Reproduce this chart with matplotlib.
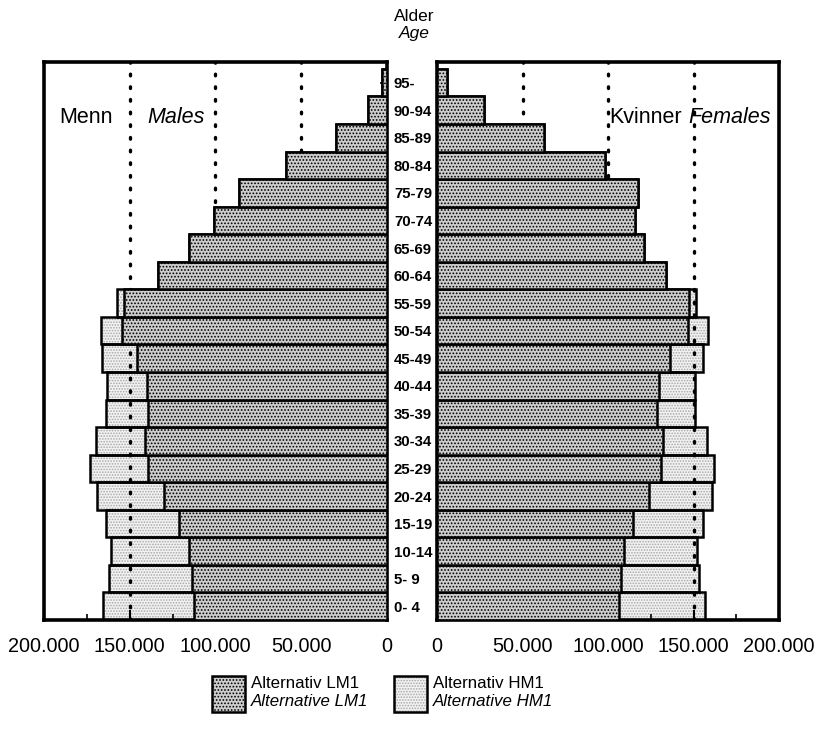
import matplotlib
matplotlib.use("Agg")
import matplotlib.pyplot as plt
from matplotlib.patches import Rectangle
from matplotlib.ticker import FuncFormatter, MultipleLocator

plt.rcParams["font.family"] = ["Liberation Sans", "DejaVu Sans"]
plt.rcParams["hatch.linewidth"] = 0.8
plt.rcParams["hatch.color"] = "#5a5a5a"

ages = ["0- 4", "5- 9", "10-14", "15-19", "20-24", "25-29", "30-34", "35-39",
        "40-44", "45-49", "50-54", "55-59", "60-64", "65-69", "70-74", "75-79",
        "80-84", "85-89", "90-94", "95-"]

# thousands of persons
males_lm1 = [112.3, 113.7, 115.7, 121.0, 130.3, 139.3, 141.2, 139.3, 139.7, 145.9,
             154.7, 153.3, 133.8, 115.3, 100.6, 86.4, 59.1, 29.8, 10.9, 3.2]
males_hm1 = [165.6, 162.0, 160.7, 164.0, 169.3, 173.4, 169.9, 164.0, 163.0, 166.4,
             167.0, 157.6, 133.8, 115.3, 100.6, 86.4, 59.1, 29.8, 10.9, 3.2]
females_lm1 = [106.5, 107.5, 109.5, 114.9, 123.7, 130.9, 131.9, 128.6, 130.1, 136.4,
               146.7, 147.6, 134.0, 121.2, 115.9, 117.8, 98.0, 62.3, 27.3, 6.0]
females_hm1 = [157.0, 153.3, 152.0, 155.8, 160.7, 161.7, 157.8, 151.0, 151.0, 155.8,
               158.2, 151.5, 134.0, 121.2, 115.9, 117.8, 98.0, 62.3, 27.3, 6.0]

LM1_FACE = "#cdcdcd"
HM1_FACE = "#f2f2f2"
LM1_HATCH = "....."
HM1_HATCH = "......"
HM1_DOTS = "#a8a8a8"


def fmt_thousands(v, pos):
    return f"{int(round(v)):,}".replace(",", ".")


def draw_side(ax, lm1, hm1):
    y = list(range(len(ages)))
    hm1_w = [v * 1000 for v in hm1]
    # light stipple for HM1, then its black outline
    ax.barh(y, hm1_w, height=1.0, color=HM1_FACE, edgecolor=HM1_DOTS,
            linewidth=0, hatch=HM1_HATCH, zorder=1)
    ax.barh(y, hm1_w, height=1.0, fill=False, edgecolor="black",
            linewidth=1.8, zorder=1.5)
    for x in (50000, 100000, 150000):
        ax.axvline(x, color="black", linewidth=2.4, linestyle=(0, (0.5, 3.3)),
                   dash_capstyle="round", zorder=2)
    ax.barh(y, [v * 1000 for v in lm1], height=1.0, color=LM1_FACE,
            edgecolor="black", linewidth=1.8, hatch=LM1_HATCH, zorder=3)
    ax.set_ylim(-0.5, 19.75)
    ax.xaxis.set_major_locator(MultipleLocator(50000))
    ax.xaxis.set_minor_locator(MultipleLocator(25000))
    ax.xaxis.set_major_formatter(FuncFormatter(fmt_thousands))
    ax.tick_params(axis="x", which="major", direction="in", length=7, width=1.5,
                   labelsize=14.3, pad=12)
    ax.tick_params(axis="x", which="minor", direction="in", length=4, width=1.2)
    for s in ax.spines.values():
        s.set_linewidth(2.6)


fig = plt.figure(figsize=(8.16, 7.43), dpi=100)
ax_m = fig.add_axes([44 / 816, 1 - 620 / 743, 343 / 816, 558 / 743])
ax_f = fig.add_axes([437 / 816, 1 - 620 / 743, 342 / 816, 558 / 743])

draw_side(ax_m, males_lm1, males_hm1)
draw_side(ax_f, females_lm1, females_hm1)

ax_m.set_xlim(200000, 0)
ax_f.set_xlim(0, 200000)

ax_m.yaxis.tick_right()
ax_m.set_yticks(range(len(ages)))
ax_m.set_yticklabels(ages, fontsize=10.8, fontweight="bold")
ax_m.tick_params(axis="y", direction="in", length=5, width=1.2, pad=5)
ax_f.set_yticks(range(len(ages)))
ax_f.set_yticklabels([])
ax_f.tick_params(axis="y", direction="in", length=5, width=1.2)

ax_m.text(0.045, 0.9, "Menn", transform=ax_m.transAxes, fontsize=15.5,
          ha="left", va="center")
ax_m.text(0.30, 0.9, "Males", transform=ax_m.transAxes, fontsize=15.5,
          style="italic", ha="left", va="center")
ax_f.text(0.505, 0.9, "Kvinner", transform=ax_f.transAxes, fontsize=15.5,
          ha="left", va="center")
ax_f.text(0.735, 0.9, "Females", transform=ax_f.transAxes, fontsize=15.5,
          style="italic", ha="left", va="center")

fig.text(0.508, 0.978, "Alder", fontsize=12.5, ha="center", va="center")
fig.text(0.508, 0.955, "Age", fontsize=12.5, style="italic", ha="center", va="center")

# legend
for x0, face, hatch, dots, l1, l2 in [
        (212, LM1_FACE, LM1_HATCH, None, "Alternativ LM1", "Alternative LM1"),
        (394, HM1_FACE, HM1_HATCH, HM1_DOTS, "Alternativ HM1", "Alternative HM1")]:
    box = ((x0 / 816, 1 - 712 / 743), 33 / 816, 36 / 743)
    if dots:
        fig.patches.append(Rectangle(*box, transform=fig.transFigure, facecolor=face,
                                     edgecolor=dots, linewidth=0, hatch=hatch))
        fig.patches.append(Rectangle(*box, transform=fig.transFigure, fill=False,
                                     edgecolor="black", linewidth=1.8))
    else:
        fig.patches.append(Rectangle(*box, transform=fig.transFigure, facecolor=face,
                                     edgecolor="black", linewidth=1.8, hatch=hatch))
    fig.text((x0 + 39) / 816, 1 - 683 / 743, l1, fontsize=12.2, ha="left", va="center")
    fig.text((x0 + 39) / 816, 1 - 702 / 743, l2, fontsize=12.2, style="italic",
             ha="left", va="center")

fig.savefig("out.png", dpi=100)
